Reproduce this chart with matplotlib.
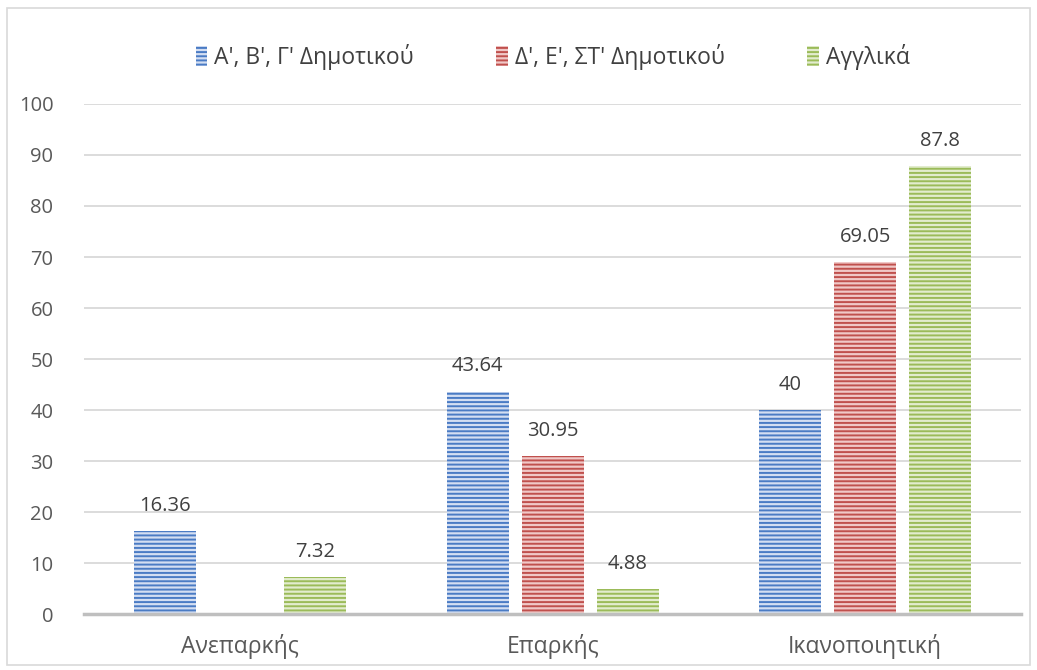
import matplotlib.pyplot as plt
import numpy as np

plt.rcParams['font.family'] = ['Open Sans', 'DejaVu Sans']
plt.rcParams['hatch.linewidth'] = 1.4

categories = ['Ανεπαρκής', 'Επαρκής', 'Ικανοποιητική']
series = ["Α', Β', Γ' Δημοτικού", "Δ', Ε', ΣΤ' Δημοτικού", 'Αγγλικά']
values = [
    [16.36, 43.64, 40],
    [0, 30.95, 69.05],
    [7.32, 4.88, 87.8],
]
labels = [
    ['16.36', '43.64', '40'],
    ['', '30.95', '69.05'],
    ['7.32', '4.88', '87.8'],
]
# stripe colour / background colour per series
stripe = ['#4a7bc4', '#c0504d', '#9bbb59']
light = ['#d3def2', '#f0c8c7', '#e2ecce']

fig = plt.figure(figsize=(10.37, 6.70), dpi=100)
ax = fig.add_axes([0.081, 0.083, 0.904, 0.762])

x = np.arange(len(categories))
w = 0.198
step = 0.24
for i in range(len(series)):
    pos = x + (i - 1) * step
    bars = ax.bar(pos, values[i], w, color=light[i], edgecolor=stripe[i],
                  hatch='----', linewidth=0, label=series[i], zorder=3)
    for b, v, t in zip(bars, values[i], labels[i]):
        if t:
            ax.text(b.get_x() + b.get_width() / 2, v + 3.0, t, ha='center',
                    va='bottom', fontsize=14.5, color='#404040')

ax.set_xlim(-0.5, 2.5)
ax.set_ylim(0, 100)
ax.set_yticks(range(0, 101, 10))
ax.set_xticks(x)
ax.set_xticklabels(categories, fontsize=16.5)
ax.tick_params(length=0, colors='#595959')
ax.tick_params(axis='y', labelsize=14.5, pad=22)
ax.tick_params(axis='x', pad=14)
ax.grid(axis='y', color='#d9d9d9', linewidth=1.3, zorder=0)
for s in ['top', 'right', 'left']:
    ax.spines[s].set_visible(False)
ax.spines['bottom'].set_color('#bfbfbf')
ax.spines['bottom'].set_linewidth(2.5)
ax.spines['bottom'].set_zorder(4)

leg = ax.legend(loc='center', bbox_to_anchor=(0.5, 1.092), ncol=3,
                frameon=False, fontsize=16.5, handlelength=0.5, handleheight=1.0,
                handletextpad=0.3, columnspacing=3.6, labelcolor='#404040')

fig.patches.append(plt.Rectangle((0.007, 0.008), 0.986, 0.98, fill=False,
                                 edgecolor='#d9d9d9', linewidth=1.2,
                                 transform=fig.transFigure))

fig.savefig('out.png', dpi=100, facecolor='white')
